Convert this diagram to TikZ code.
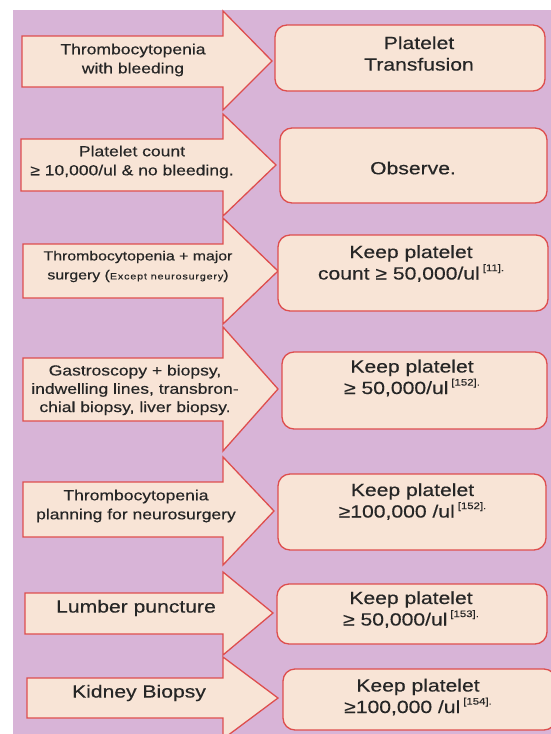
\documentclass[tikz,border=0pt]{standalone}
\usepackage{fontspec}
\setmainfont{Liberation Sans}[FakeStretch=1.2, FakeBold=0.4]
\usepackage{xcolor}
\usepackage{tikz}
\usetikzlibrary{calc}

\definecolor{bgpurple}{RGB}{216,180,215}
\definecolor{peach}{RGB}{248,228,214}
\definecolor{edgered}{RGB}{222,78,78}
\definecolor{inkgray}{RGB}{38,38,38}

\newcommand{\bibsup}[1]{\,\raisebox{0.48em}{\fontsize{9.5}{10}\selectfont[#1].}}

\begin{document}
\begin{tikzpicture}[
  x=1pt, y=-1pt,
  blockarrow/.style={draw=edgered, fill=peach, line width=1.3pt, line join=miter},
  armtext/.style={align=center, text=inkgray, inner sep=0pt,
                  font=\fontsize{14.6}{19}\selectfont},
  bigarmtext/.style={armtext, font=\fontsize{17.6}{21}\selectfont},
  outbox/.style={draw=edgered, fill=peach, line width=1.3pt, rounded corners=12pt},
  outtext/.style={align=center, text=inkgray, inner sep=0pt,
                  font=\fontsize{17.6}{21.5}\selectfont}
]
\useasboundingbox (0,0) rectangle (551,734);
\clip (0,0) rectangle (551,734);
\fill[bgpurple] (13,10) rectangle (551,734);

%% Condition arrows (left column)
\draw[blockarrow] (22,36) -- (223,36) -- (223,11) -- (272,61) -- (223,110) -- (223,87) -- (22,87) -- cycle;
\draw[blockarrow] (21,139) -- (223,139) -- (223,114) -- (276,165) -- (223,216) -- (223,191) -- (21,191) -- cycle;
\draw[blockarrow] (23,244) -- (223,244) -- (223,218) -- (278,271) -- (223,324) -- (223,298) -- (23,298) -- cycle;
\draw[blockarrow] (23,358) -- (223,358) -- (223,327) -- (278,389) -- (223,451) -- (223,421) -- (23,421) -- cycle;
\draw[blockarrow] (23,482) -- (223,482) -- (223,457) -- (274,511) -- (223,565) -- (223,537) -- (23,537) -- cycle;
\draw[blockarrow] (25,593) -- (223,593) -- (223,572) -- (273,613) -- (223,655) -- (223,634) -- (25,634) -- cycle;
\draw[blockarrow] (27,678) -- (223,678) -- (223,657) -- (278,698) -- (223,739) -- (223,718) -- (27,718) -- cycle;

\node[armtext] (c1) at (133,60) {Thrombocytopenia\\with bleeding};
\node[armtext] (c2) at (132,162) {Platelet count\\≥ 10,000/ul \& no bleeding.};
\node[armtext, font=\fontsize{13.2}{19}\selectfont] (c3) at (138,266.5)
  {Thrombocytopenia + major\\surgery ({\fontsize{9}{10}\selectfont\addfontfeature{LetterSpace=9}Except neurosurgery})};
\node[armtext, font=\fontsize{14.6}{18.3}\selectfont] (c4) at (135,390)
  {Gastroscopy + biopsy,\\indwelling lines, transbron-\\chial biopsy, liver biopsy.};
\node[armtext] (c5) at (136,506) {Thrombocytopenia\\planning for neurosurgery};
\node[bigarmtext] (c6) at (136,608) {Lumber puncture};
\node[bigarmtext] (c7) at (139,693) {Kidney Biopsy};

%% Management boxes (right column)
\node[outbox, minimum width=270pt, minimum height=66pt] (b1) at (410,58) {};
\node[outbox, minimum width=267pt, minimum height=75pt] (b2) at (413.5,165.5) {};
\node[outbox, minimum width=270pt, minimum height=76pt] (b3) at (413,273) {};
\node[outbox, minimum width=265pt, minimum height=77pt] (b4) at (414.5,390.5) {};
\node[outbox, minimum width=268pt, minimum height=76pt] (b5) at (412,512) {};
\node[outbox, minimum width=270pt, minimum height=60pt] (b6) at (412,614) {};
\node[outbox, minimum width=273pt, minimum height=61pt] (b7) at (419.5,699.5) {};

\node[outtext] (t1) at (419,53.5) {Platelet\\Transfusion};
\node[outtext] (t2) at (413,168) {Observe.};
\node[outtext] (t3) at (411,263.5) {Keep platelet\\count ≥ 50,000/ul\bibsup{11}};
\node[outtext] (t4) at (412,378) {Keep platelet\\≥ 50,000/ul\bibsup{152}};
\node[outtext] (t5) at (412.5,501.5) {Keep platelet\\≥100,000 /ul\bibsup{152}};
\node[outtext] (t6) at (411,609.5) {Keep platelet\\≥ 50,000/ul\bibsup{153}};
\node[outtext] (t7) at (418,697) {Keep platelet\\≥100,000 /ul\bibsup{154}};
\end{tikzpicture}
\end{document}
